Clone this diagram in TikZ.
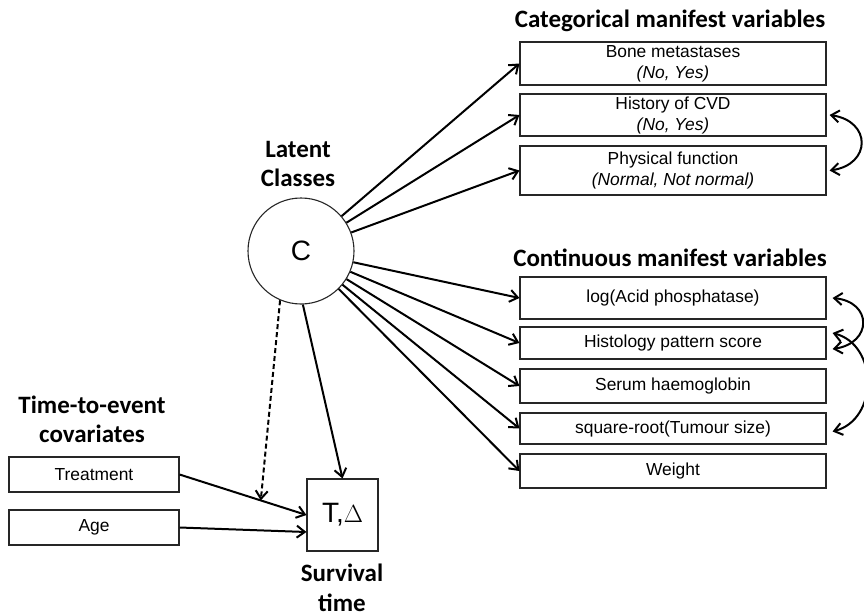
\documentclass[tikz,border=0pt]{standalone}
\usepackage{fontspec}
\setmainfont{Liberation Sans}
\newfontfamily\headfont{Carlito}
\usetikzlibrary{arrows.meta}

\tikzset{
  varbox/.style={draw=black!85, line width=1.1pt, minimum width=306, inner sep=0pt,
    align=center, font=\fontsize{17.4}{21}\selectfont},
  covbox/.style={draw=black!85, line width=1.1pt, minimum width=170, minimum height=35,
    inner sep=0pt, font=\fontsize{17.4}{21}\selectfont},
  heading/.style={align=center, font=\headfont\bfseries\fontsize{25}{29.5}\selectfont},
  tip/.style={Straight Barb[length=8pt,width=12pt,line width=2pt]},
  link/.style={line width=2pt, -{Straight Barb[length=8pt,width=12pt,line width=2pt]}},
  twoway/.style={line width=2pt, {Straight Barb[length=8pt,width=12pt,line width=2pt]}-{Straight Barb[length=8pt,width=12pt,line width=2pt]}},
}

\begin{document}
\begin{tikzpicture}[x=1pt, y=-1pt]
\useasboundingbox (0,0) rectangle (864,615);

% latent class variable
\node[circle, draw=black!85, line width=1.1pt, minimum size=106, inner sep=0pt,
  font=\fontsize{28}{30}\selectfont] (C) at (301,251) {C};
\node[heading] (lathead) at (298,164) {Latent\\Classes};

% categorical indicators
\node[heading] (cathead) at (670,21) {Categorical manifest variables};
\node[varbox, minimum height=43] (bone) at (673,63.5) {Bone metastases\\\textit{(No, Yes)}};
\node[varbox, minimum height=42] (cvd) at (673,115) {History of CVD\\\textit{(No, Yes)}};
\node[varbox, minimum height=49] (phys) at (673,170.5) {Physical function\\\textit{(Normal, Not normal)}};

% continuous indicators
\node[heading] (conhead) at (670,258) {Continuous manifest variables};
\node[varbox, minimum height=42] (acid) at (673,298) {log(Acid phosphatase)};
\node[varbox, minimum height=32] (hist) at (673,343) {Histology pattern score};
\node[varbox, minimum height=34] (serum) at (673,386) {Serum haemoglobin};
\node[varbox, minimum height=31] (tum) at (673,428.5) {square-root(Tumour size)};
\node[varbox, minimum height=34] (wt) at (673,471) {Weight};

% survival part
\node[heading] (covhead) at (92,419.5) {Time-to-event\\covariates};
\node[covbox] (treat) at (94,474.5) {Treatment};
\node[covbox] (age) at (94,527.5) {Age};
\node[draw=black!85, line width=1.1pt, minimum width=71, minimum height=72, inner sep=0pt,
  font=\fontsize{28}{30}\selectfont] (T) at (342.5,515) {T,$\Delta$};
\node[heading] (survhead) at (342,588) {Survival\\time};

% class to indicators
\foreach \v in {bone,cvd,phys,acid,hist,serum,tum,wt}
  \draw[link] (C) -- (\v.west);

% class and covariates to survival
\draw[link] (C.272) -- (T.north);
\draw[link] (treat.east) -- (T.west) coordinate[pos=0.64] (eff);
\draw[link] (age.east) -- ([yshift=-17]T.west);
\draw[link, dash pattern=on 5pt off 3pt] (C.247) -- (eff);

% residual associations
\draw[twoway] ([xshift=3]cvd.east) .. controls +(42,6) and +(42,-6) .. ([xshift=3]phys.east);
\draw[twoway] ([xshift=6]acid.east) .. controls +(40,4) and +(40,-6) .. ([xshift=6,yshift=-6]hist.east);
\draw[twoway] ([xshift=6,yshift=10]hist.east) .. controls +(46,12) and +(46,-12) .. ([xshift=6,yshift=-3]tum.east);
\end{tikzpicture}
\end{document}
